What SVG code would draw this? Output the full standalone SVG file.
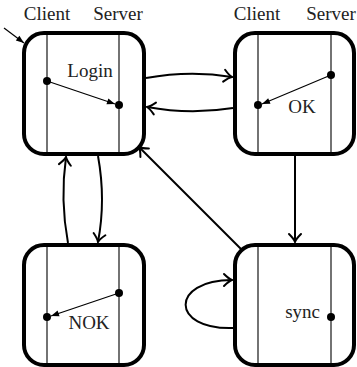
<svg xmlns="http://www.w3.org/2000/svg" width="357" height="367" viewBox="0 0 357 367">
<style>
.box{fill:#fff;stroke:#000;stroke-width:4}
.lane{stroke:#000;stroke-width:1.1;fill:none}
.t{font-family:"Liberation Serif","Times New Roman",serif;font-size:19px;fill:#222}
.c{fill:none;stroke:#000;stroke-width:2}
.m{fill:none;stroke:#000;stroke-width:1.2}
.dot{fill:#000}
</style>
<defs>
<marker id="to" markerUnits="userSpaceOnUse" markerWidth="20" markerHeight="20" viewBox="-10 -10 20 20" refX="0" refY="0" orient="auto">
<path d="M -8 -6 Q -3 -1 0 0 Q -3 1 -8 6" fill="none" stroke="#000" stroke-width="2" stroke-linecap="round"/>
</marker>
<marker id="tri" markerUnits="userSpaceOnUse" markerWidth="12" markerHeight="12" viewBox="-10 -6 12 12" refX="0" refY="0" orient="auto">
<path d="M -8 -3 L 0 0 L -8 3 Z" fill="#000"/>
</marker>
</defs>

<g id="labels">
<text class="t" x="47" y="20" text-anchor="middle">Client</text>
<text class="t" x="118" y="20" text-anchor="middle">Server</text>
<text class="t" x="257" y="20" text-anchor="middle">Client</text>
<text class="t" x="331" y="20" text-anchor="middle">Server</text>
</g>

<g id="connectors">
<line class="m" x1="4" y1="28" x2="24" y2="43" marker-end="url(#tri)"/>
<path class="c" d="M 146 78 Q 190 70 232 77" marker-end="url(#to)"/>
<path class="c" d="M 233 108 Q 190 115 147 107" marker-end="url(#to)"/>
<path class="c" d="M 68 243 Q 60 200 66 157" marker-end="url(#to)"/>
<path class="c" d="M 98 156 Q 106 200 98 242" marker-end="url(#to)"/>
<path class="c" d="M 295 156 L 295 242" marker-end="url(#to)"/>
<path class="c" d="M 241 249 L 139 147" marker-end="url(#to)"/>
<path class="c" d="M 233 328 C 170 330 170 280 232 280" marker-end="url(#to)"/>
</g>

<g id="login">
<rect class="box" x="24" y="33" width="120" height="121" rx="20"/>
<line class="lane" x1="47" y1="33" x2="47" y2="154"/>
<line class="lane" x1="119" y1="33" x2="119" y2="154"/>
<text class="t" x="90" y="77" text-anchor="middle">Login</text>
<line class="m" x1="47" y1="81" x2="115" y2="104" marker-end="url(#tri)"/>
<circle class="dot" cx="47" cy="81" r="4"/>
<circle class="dot" cx="119" cy="105" r="4"/>
</g>

<g id="ok">
<rect class="box" x="235" y="33" width="119" height="121" rx="20"/>
<line class="lane" x1="258" y1="33" x2="258" y2="154"/>
<line class="lane" x1="331" y1="33" x2="331" y2="154"/>
<text class="t" x="302" y="113" text-anchor="middle">OK</text>
<line class="m" x1="331" y1="75" x2="262" y2="104" marker-end="url(#tri)"/>
<circle class="dot" cx="331" cy="75" r="4"/>
<circle class="dot" cx="258" cy="105" r="4"/>
</g>

<g id="nok">
<rect class="box" x="24" y="245" width="120" height="120" rx="20"/>
<line class="lane" x1="47" y1="245" x2="47" y2="365"/>
<line class="lane" x1="119" y1="245" x2="119" y2="365"/>
<text class="t" x="89" y="329" text-anchor="middle">NOK</text>
<line class="m" x1="119" y1="293" x2="51" y2="316" marker-end="url(#tri)"/>
<circle class="dot" cx="119" cy="293" r="4"/>
<circle class="dot" cx="47" cy="317" r="4"/>
</g>

<g id="sync">
<rect class="box" x="235" y="245" width="119" height="120" rx="20"/>
<line class="lane" x1="258" y1="245" x2="258" y2="365"/>
<line class="lane" x1="331" y1="245" x2="331" y2="365"/>
<text class="t" x="320" y="318" text-anchor="end">sync</text>
<circle class="dot" cx="331" cy="317" r="4"/>
</g>
</svg>
